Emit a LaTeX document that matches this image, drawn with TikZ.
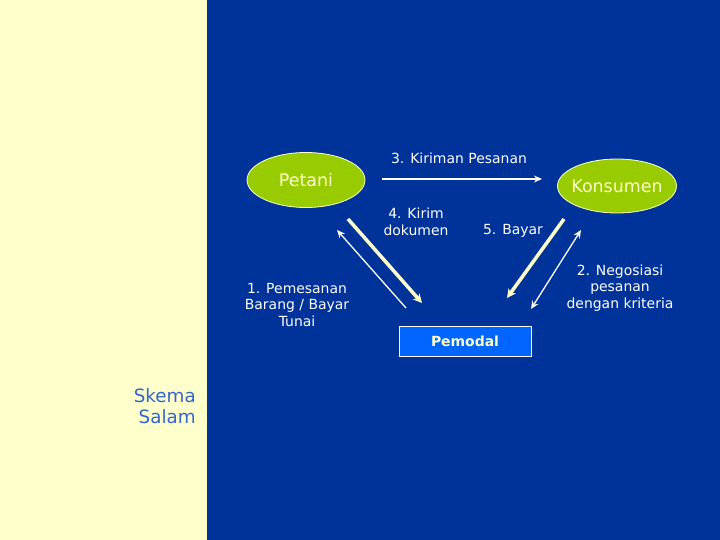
\documentclass[tikz,border=0pt]{standalone}
\usepackage{fontspec}
\setmainfont{DejaVu Sans}
\usetikzlibrary{arrows.meta,shapes.geometric}
\definecolor{bgblue}{HTML}{003399}
\definecolor{paleyel}{HTML}{FFFFCC}
\definecolor{lime}{HTML}{99CC00}
\definecolor{boxblue}{HTML}{0066FF}
\definecolor{skemablue}{HTML}{3366CC}
\tikzset{
  party/.style={ellipse, fill=lime, draw=paleyel, line width=0.8bp, minimum width=118bp, minimum height=55bp, inner xsep=-14bp, inner ysep=0pt, text=paleyel, font=\fontsize{17.5}{20}\selectfont},
  lbl/.style={text=white, align=center, font=\fontsize{14}{16.7}\selectfont, inner sep=0pt},
  thinarr/.style={draw=white, line width=1.3bp, -{Stealth[length=8bp,width=7bp]}},
  thickarr/.style={draw=paleyel, line width=3.5bp, -{Stealth[length=9bp,width=9bp]}}
}
\begin{document}
\begin{tikzpicture}[x=1bp,y=-1bp]
\useasboundingbox (0,0) rectangle (720,540);
\fill[paleyel] (0,0) rectangle (207,540);
\fill[bgblue] (207,0) rectangle (720,540);
\node[party] (petani) at (306,180) {Petani};
\node[party, minimum width=119bp, minimum height=54bp] (konsumen) at (617,186) {Konsumen};
\node[draw=white, line width=0.8bp, fill=boxblue, minimum width=132bp, minimum height=30bp, inner sep=0pt, text=paleyel, font=\fontsize{14}{16}\selectfont\bfseries] (pemodal) at (465,341) {Pemodal};
\node[lbl] (l3) at (459,158) {3. Kiriman Pesanan};
\node[lbl] (l4) at (416,222) {4. Kirim\\dokumen};
\node[lbl] (l5) at (513,231) {5. Bayar};
\node[lbl] (l1) at (297,305) {1. Pemesanan\\Barang / Bayar\\Tunai};
\node[lbl] (l2) at (620,288) {2. Negosiasi\\pesanan\\dengan kriteria};
\node[text=skemablue, align=right, anchor=east, font=\fontsize{18.4}{21.5}\selectfont, inner sep=0pt] (skema) at (196,406) {Skema\\Salam};
\coordinate (a3s) at (382,179);
\coordinate (a3e) at (542,179);
\coordinate (a1s) at (406,308);
\coordinate (a1e) at (337,230);
\coordinate (a4s) at (348,219);
\coordinate (a4e) at (422,303);
\coordinate (a5s) at (564,219);
\coordinate (a5e) at (507,298);
\coordinate (a2s) at (531,309);
\coordinate (a2e) at (581,230);
\draw[thinarr] (a3s) -- (a3e);
\draw[thinarr] (a1s) -- (a1e);
\draw[thickarr] (a4s) -- (a4e);
\draw[thickarr] (a5s) -- (a5e);
\draw[thinarr, {Stealth[length=8bp,width=7bp]}-{Stealth[length=8bp,width=7bp]}] (a2s) -- (a2e);
\end{tikzpicture}
\end{document}
